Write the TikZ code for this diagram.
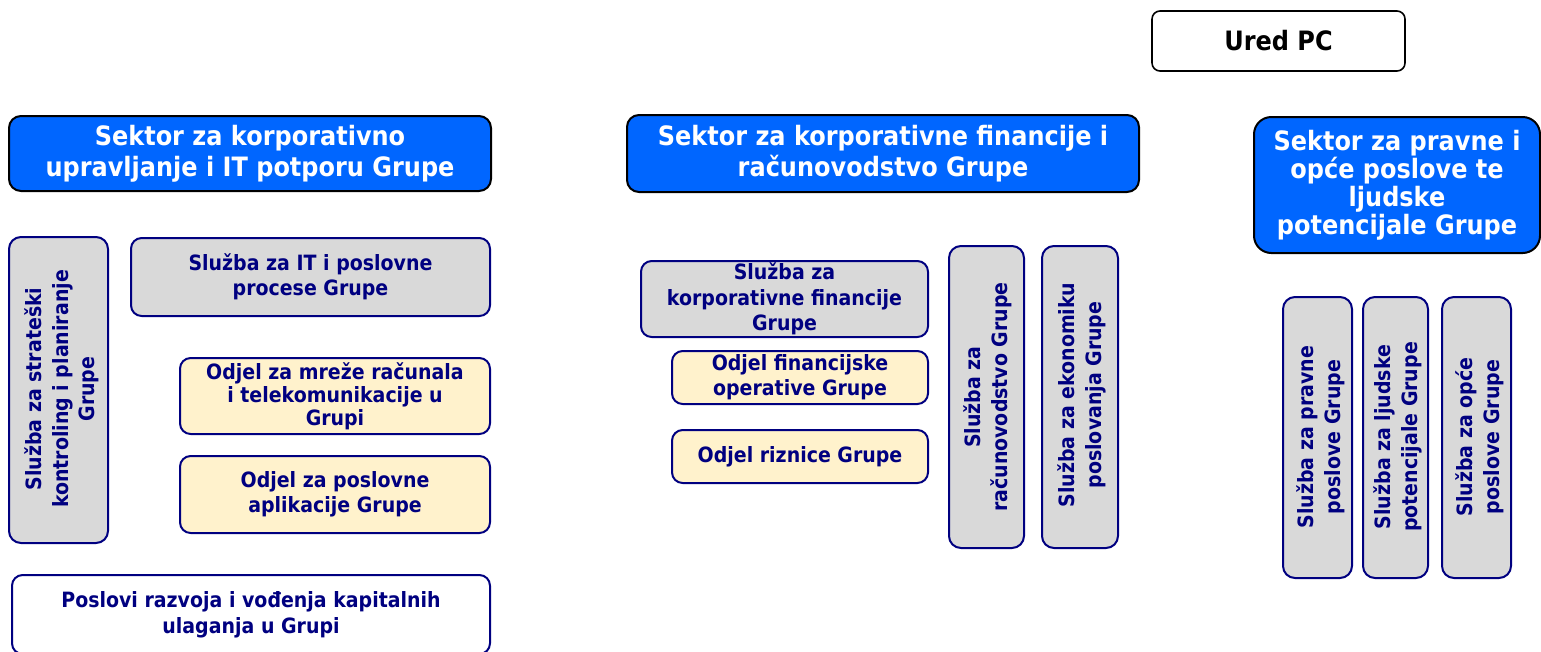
\documentclass[tikz,border=0pt]{standalone}
\usepackage{fontspec}
\setmainfont{DejaVu Sans}[FakeStretch=0.9]
\definecolor{hblue}{RGB}{0,102,255}
\definecolor{navy}{RGB}{0,0,128}
\definecolor{boxgray}{RGB}{217,217,217}
\definecolor{boxyel}{RGB}{255,242,204}
\tikzset{
  sz/.style 2 args={minimum width=#1*0.75pt, minimum height=#2*0.75pt},
  base/.style={rounded corners=8pt, line width=1.5pt, align=center, inner sep=0pt,
    draw=navy, text=navy, font=\bfseries\fontsize{15.8}{19}\selectfont},
  header/.style={base, draw=black, fill=hblue, text=white,
    font=\bfseries\fontsize{20}{23.5}\selectfont, rounded corners=9pt},
  greybox/.style={base, fill=boxgray},
  yelbox/.style={base, fill=boxyel},
  whitebox/.style={base, fill=white},
  vbox/.style={base, fill=boxgray, rotate=90, rounded corners=9pt, font=\bfseries\fontsize{15.8}{20}\selectfont},
  vtext/.style={text=navy, align=center, inner sep=0pt, rotate=90, font=\bfseries\fontsize{15.8}{20}\selectfont},
}
\begin{document}
\begin{tikzpicture}[x=0.75pt, y=-0.75pt]
\useasboundingbox (0,0) rectangle (1541,651);
% top
\node[base, draw=black, text=black, fill=white, line width=1.2pt, rounded corners=6pt,
  font=\bfseries\fontsize{20}{23.5}\selectfont, sz={253}{60}] (ured) at (1278.5,41) {Ured PC};
% headers
\node[header, sz={482}{75}] (h1) at (250,153.5) {Sektor za korporativno\\upravljanje i IT potporu Grupe};
\node[header, sz={512}{77}] (h2) at (883,153.5) {Sektor za korporativne financije i\\računovodstvo Grupe};
\node[header, sz={286}{136}, rounded corners=13pt, font=\bfseries\fontsize{20}{21}\selectfont] (h3) at (1397,185)
  {Sektor za pravne i\\opće poslove te\\ljudske\\potencijale Grupe};
% left column
\node[vbox, sz={306}{99}] (v1) at (58.5,390) {};
\node[vtext] (v1t) at (62,389) {Služba za strateški\\kontroling i planiranje\\Grupe};
\node[greybox, sz={359}{78}] (g1) at (310.5,277) {Služba za IT i poslovne\\procese Grupe};
\node[yelbox, sz={310}{76}, font=\bfseries\fontsize{15.8}{17.25}\selectfont] (y1) at (335,396) {Odjel za mreže računala\\i telekomunikacije u\\Grupi};
\node[yelbox, sz={310}{77}] (y2) at (335,494.5) {Odjel za poslovne\\aplikacije Grupe};
\node[whitebox, sz={478}{79}, font=\bfseries\fontsize{15.8}{19.5}\selectfont] (w1) at (251,614.5) {Poslovi razvoja i vođenja kapitalnih\\ulaganja u Grupi};
% middle column
\node[greybox, sz={287}{76}] (g2) at (784.5,299) {Služba za\\korporativne financije\\Grupe};
\node[yelbox, sz={256}{53}] (y3) at (800,377.5) {Odjel financijske\\operative Grupe};
\node[yelbox, sz={256}{53}] (y4) at (800,456.5) {Odjel riznice Grupe};
\node[vbox, sz={302}{75}] (v2) at (986.5,397) {};
\node[vtext] (v2t) at (988,397) {Služba za\\računovodstvo Grupe};
\node[vbox, sz={302}{76}] (v3) at (1080,397) {};
\node[vtext] (v3t) at (1082,395) {Služba za ekonomiku\\poslovanja Grupe};
% right column
\node[vbox, sz={281}{69}] (v4) at (1317.5,437.5) {};
\node[vtext] (v4t) at (1321,437) {Služba za pravne\\poslove Grupe};
\node[vbox, sz={281}{65}] (v5) at (1395.5,437.5) {};
\node[vtext] (v5t) at (1398,437) {Služba za ljudske\\potencijale Grupe};
\node[vbox, sz={281}{69}] (v6) at (1476.5,437.5) {};
\node[vtext] (v6t) at (1480,437) {Služba za opće\\poslove Grupe};
\end{tikzpicture}
\end{document}
